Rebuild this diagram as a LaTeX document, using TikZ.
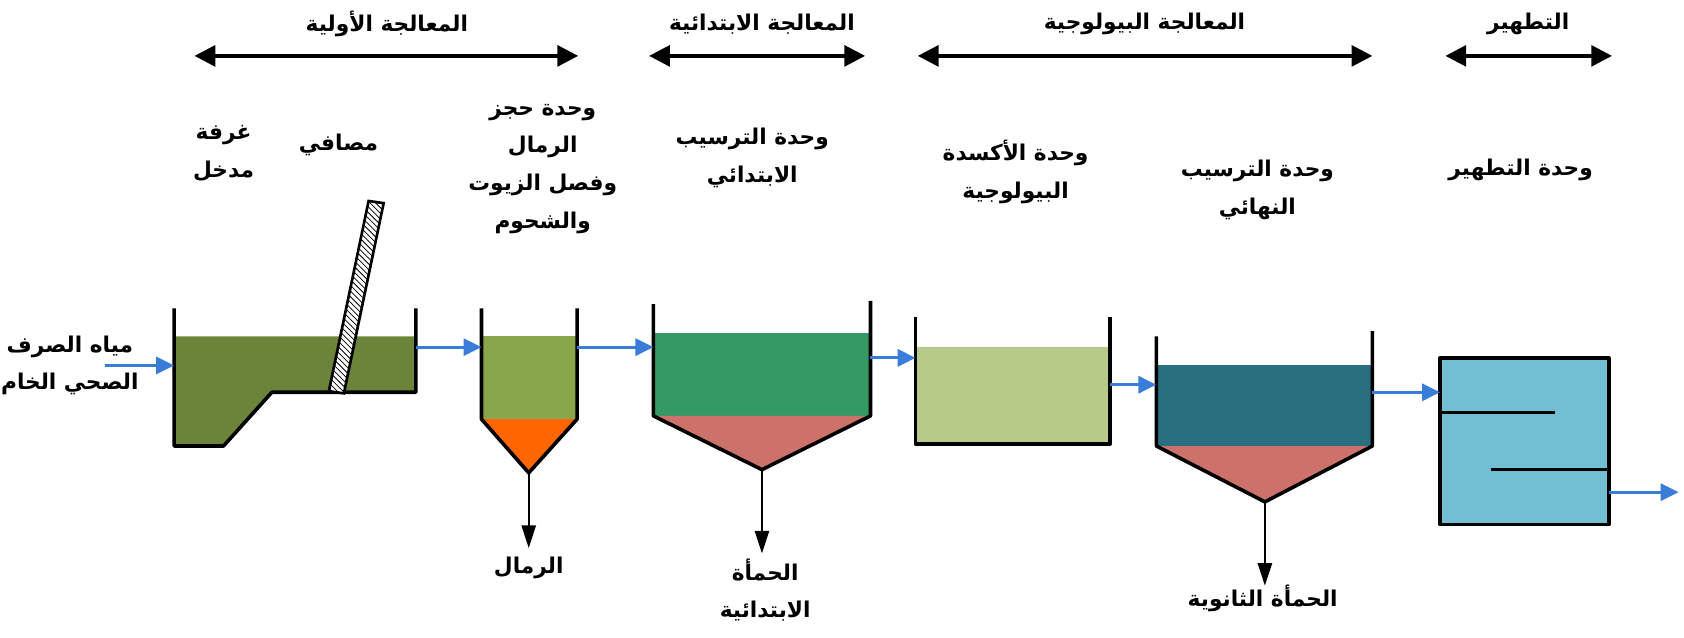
\documentclass[tikz,border=0pt]{standalone}
\usepackage{fontspec}
\usetikzlibrary{arrows.meta,patterns}
\TeXXeTstate=1
\newfontfamily\arabicfont[Script=Arabic]{DejaVu Sans}
\newcommand{\rl}[1]{\beginR #1\endR}
\definecolor{flowblue}{HTML}{3A7DD8}
\definecolor{waterA}{HTML}{6B843A}
\definecolor{waterB}{HTML}{8AA64A}
\definecolor{waterC}{HTML}{359966}
\definecolor{waterD}{HTML}{B7CA87}
\definecolor{waterE}{HTML}{2A6F80}
\definecolor{waterF}{HTML}{72BED3}
\definecolor{sludge}{HTML}{CD726B}
\definecolor{grit}{HTML}{FF6600}

\begin{document}
\begin{tikzpicture}[x=0.02cm, y=-0.02cm,
  every node/.style={font=\arabicfont\bfseries\fontsize{11.5}{20}\selectfont, align=center},
  wall/.style={line width=1.9pt, line join=round},
  flow/.style={draw=flowblue, line width=1.6pt, -{Triangle[length=9.5pt,width=9pt]}},
  drain/.style={line width=1.2pt, -{Triangle[length=12pt,width=7.5pt]}},
  stagearrow/.style={line width=1.9pt, {Triangle[length=11pt,width=11pt]}-{Triangle[length=11pt,width=11pt]}}]

\useasboundingbox (0,0) rectangle (1567,593);

% stages
\node (s1) at (360,22) {\rl{المعالجة الأولية}};
\node (s2) at (709,22) {\rl{المعالجة الابتدائية}};
\node (s3) at (1065,22) {\rl{المعالجة البيولوجية}};
\node (s4) at (1422,22) {\rl{التطهير}};
\coordinate (s1a) at (181,52); \coordinate (s1b) at (538,52);
\coordinate (s2a) at (604,52); \coordinate (s2b) at (805,52);
\coordinate (s3a) at (854,52); \coordinate (s3b) at (1277,52);
\coordinate (s4a) at (1345,52); \coordinate (s4b) at (1500,52);
\draw[stagearrow] (s1a) -- (s1b);
\draw[stagearrow] (s2a) -- (s2b);
\draw[stagearrow] (s3a) -- (s3b);
\draw[stagearrow] (s4a) -- (s4b);

% units
\node (inlet) at (208,143) {\rl{غرفة}\\\rl{مدخل}};
\node (screen) at (315,135) {\rl{مصافي}};
\node (gritunit) at (505,157) {\rl{وحدة حجز}\\\rl{الرمال}\\\rl{وفصل الزيوت}\\\rl{والشحوم}};
\node (prim) at (700,147) {\rl{وحدة الترسيب}\\\rl{الابتدائي}};
\node (bio) at (945,160) {\rl{وحدة الأكسدة}\\\rl{البيولوجية}};
\node (final) at (1170,177) {\rl{وحدة الترسيب}\\\rl{النهائي}};
\node (disinf) at (1415,158) {\rl{وحدة التطهير}};

% inlet chamber and screen
\fill[waterA] (162,313) -- (387,313) -- (387,365) -- (253,365) -- (208,415) -- (162,415) -- cycle;
\draw[wall] (162,287) -- (162,415) -- (208,415) -- (253,365) -- (387,365) -- (387,287);
\draw[line width=1.4pt, preaction={fill=white}, pattern=north west lines]
  (306,364) -- (320,366) -- (357,189) -- (343,187) -- cycle;

% grit chamber
\fill[waterB] (448,313) rectangle (537,390);
\fill[grit] (448,390) -- (537,390) -- (492,440) -- cycle;
\draw[wall] (448,287) -- (448,390) -- (492,440) -- (537,390) -- (537,287);

% primary settling
\fill[waterC] (608,310) rectangle (810,387);
\fill[sludge] (608,387) -- (810,387) -- (709,437) -- cycle;
\draw[wall] (608,283) -- (608,387) -- (709,437) -- (810,387) -- (810,280);

% biological oxidation
\fill[waterD] (852,323) rectangle (1033,413);
\draw[wall] (852,295) -- (852,413) -- (1033,413) -- (1033,295);

% final settling
\fill[waterE] (1076,340) rectangle (1277,415);
\fill[sludge] (1076,415) -- (1277,415) -- (1177,467) -- cycle;
\draw[wall] (1076,313) -- (1076,415) -- (1177,467) -- (1277,415) -- (1277,308);

% disinfection
\filldraw[wall, fill=waterF] (1340,333) rectangle (1497,488);
\draw[wall] (1340,384) -- (1447,384);
\draw[wall] (1387,437) -- (1497,437);

% flow
\node (raw) at (65,340) {\rl{مياه الصرف}\\\rl{الصحي الخام}};
\coordinate (in0) at (98,340);   \coordinate (in1) at (162,340);
\coordinate (a1) at (387,323);   \coordinate (b1) at (448,323);
\coordinate (a2) at (537,323);   \coordinate (b2) at (608,323);
\coordinate (a3) at (810,333);   \coordinate (b3) at (852,333);
\coordinate (a4) at (1033,358);  \coordinate (b4) at (1076,358);
\coordinate (a5) at (1277,365);  \coordinate (b5) at (1340,365);
\coordinate (a6) at (1497,458);  \coordinate (b6) at (1562,458);
\draw[flow] (in0) -- (in1);
\draw[flow] (a1) -- (b1);
\draw[flow] (a2) -- (b2);
\draw[flow] (a3) -- (b3);
\draw[flow] (a4) -- (b4);
\draw[flow] (a5) -- (b5);
\draw[flow] (a6) -- (b6);

% sand and sludge
\coordinate (g0) at (492,440);  \coordinate (g1) at (492,510);
\coordinate (p0) at (709,437);  \coordinate (p1) at (709,515);
\coordinate (q0) at (1177,467); \coordinate (q1) at (1177,545);
\draw[drain] (g0) -- (g1);
\draw[drain] (p0) -- (p1);
\draw[drain] (q0) -- (q1);
\node (sand) at (492,528) {\rl{الرمال}};
\node (psludge) at (712,549) {\rl{الحمأة}\\\rl{الابتدائية}};
\node (ssludge) at (1175,557) {\rl{الحمأة الثانوية}};

\end{tikzpicture}
\end{document}
